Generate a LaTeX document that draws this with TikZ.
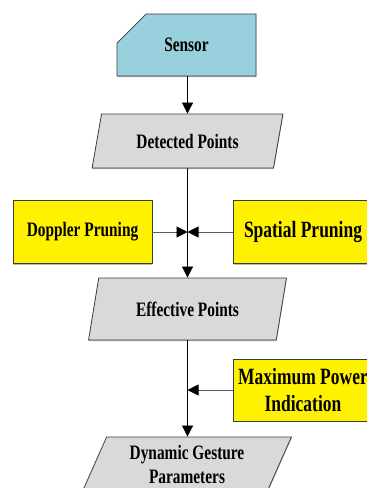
\documentclass[tikz,border=0pt]{standalone}
\usepackage{fontspec}
\newfontfamily\chartfont[FakeStretch=0.75]{Liberation Serif}
\usetikzlibrary{shapes.geometric,shapes.misc,arrows.meta,shadows}
\definecolor{sensorblue}{HTML}{99D0DD}
\definecolor{datagray}{HTML}{D9D9D9}
\definecolor{edgegray}{HTML}{3C3C3C}
\definecolor{wiregray}{HTML}{5A5A5A}
\tikzset{
	base/.style={draw=edgegray, line width=0.8pt, align=center, inner sep=0pt,
		drop shadow={shadow xshift=0.4pt, shadow yshift=-1pt, fill=black!55},
		font=\chartfont\bfseries\fontsize{20.5}{24}\selectfont},
	device/.style={base, chamfered rectangle, chamfered rectangle corners=north west,
		chamfered rectangle xsep=28pt, chamfered rectangle ysep=30pt,
		fill=sensorblue, minimum width=139pt, minimum height=62pt},
	dataio/.style={base, trapezium, trapezium stretches=true, fill=datagray},
	process/.style={base, rectangle, fill=yellow, minimum width=139pt, minimum height=63pt},
	bigtext/.style={font=\chartfont\bfseries\fontsize{23.3}{27}\selectfont},
	flow/.style={-{Triangle[length=11pt,width=11pt]}, line width=0.7pt, black},
	feed/.style={-{Triangle[length=11pt,width=11pt,color=black]}, line width=0.7pt, wiregray},
}
\begin{document}
\begin{tikzpicture}[x=1pt, y=-1pt]
	\clip (0,0) rectangle (367,488);
	
	\node[device] at (186.5, 45) (sensor) {Sensor};
	\node[dataio, minimum width=191pt, minimum height=54pt,
		trapezium left angle=68.7, trapezium right angle=111.3] at (187.5, 141) (detected) {Detected Points};
	\node[process] at (82.5, 232) (doppler) {Doppler Pruning};
	\node[process, bigtext] at (303, 232) (spatial) {Spatial Pruning};
	\node[dataio, minimum width=198pt, minimum height=62pt,
		trapezium left angle=68, trapezium right angle=112] at (187.5, 309) (effective) {Effective Points};
	\node[process, bigtext, minimum height=62pt] at (303, 390) (maxpower) {Maximum Power\\Indication};
	\node[dataio, minimum width=209pt, minimum height=54pt,
		trapezium left angle=66, trapezium right angle=114] at (187, 464) (dynamic) {Dynamic Gesture\\Parameters};
	
	\coordinate (prune) at (187.5, 232);
	\coordinate (power) at (187.5, 390);
	
	\draw [flow] (detected.north |- sensor.south) -- (detected.north);
	\draw [flow] (detected.south) -- (effective.north);
	\draw [feed] (doppler.east) -- (prune);
	\draw [feed] (spatial.west) -- (prune);
	\draw [flow] (effective.south) -- (effective.south |- dynamic.north);
	\draw [feed] (maxpower.west) -- (power);
\end{tikzpicture}
\end{document}
